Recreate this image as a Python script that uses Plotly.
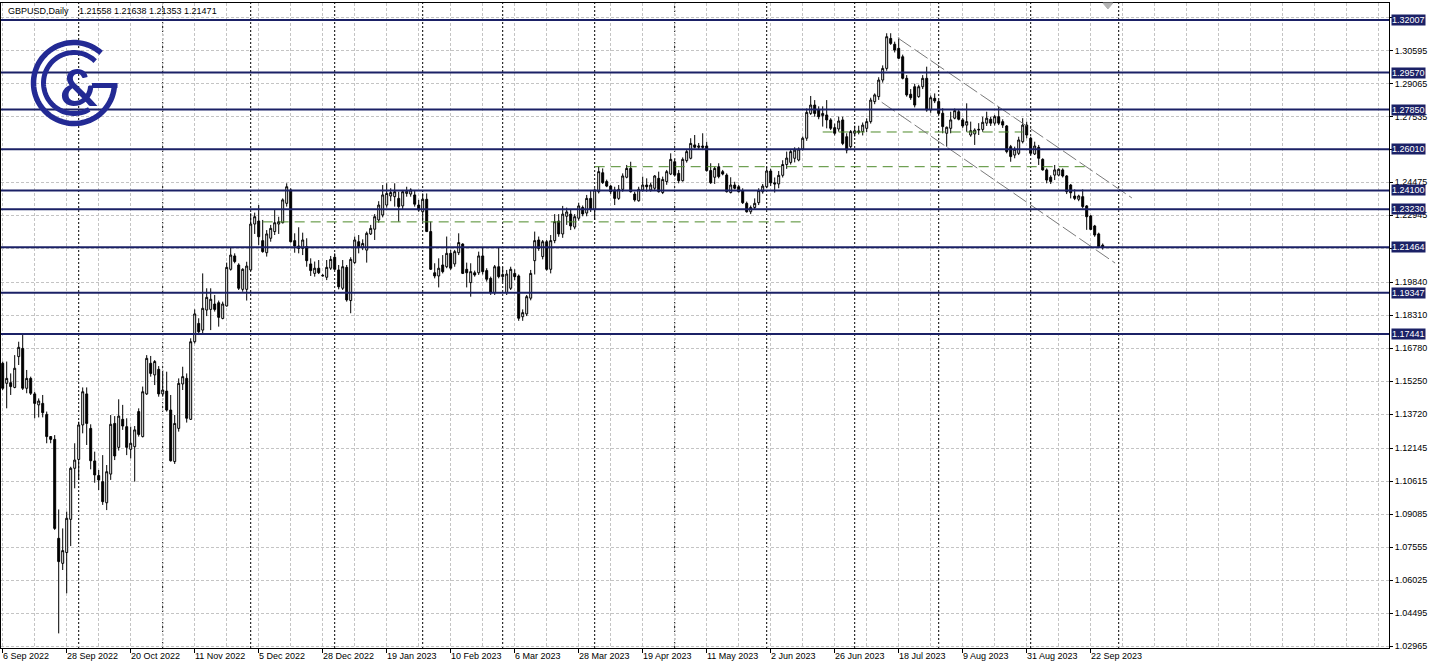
import math
import plotly.graph_objects as go

# ---------------- data ----------------
opens = [1.1608,1.1515,1.1518,1.1496,1.1639,1.1677,1.1492,1.1538,1.1466,1.1415,
1.1422,1.1371,1.1268,1.1255,1.0796,1.0680,1.0730,1.0884,1.1121,1.1162,
1.1322,1.1466,1.1306,1.1155,1.1087,1.1059,1.0961,1.1094,1.1329,1.1218,
1.1348,1.1314,1.1209,1.1221,1.1384,1.1268,1.1466,1.1608,1.1554,1.1580,
1.1466,1.1479,1.1391,1.1152,1.1306,1.1512,1.1538,1.1348,1.1708,1.1793,
1.1762,1.1855,1.1858,1.1883,1.1889,1.1816,1.1874,1.2044,1.2106,1.2064,
1.1951,1.1951,1.2041,1.2254,1.2268,1.2177,1.2121,1.2188,1.2219,1.2254,
1.2260,1.2350,1.2412,1.2177,1.2152,1.2141,1.2149,1.2069,1.2025,1.2049,
1.2016,1.2007,1.2049,1.2100,1.2041,1.1956,1.2053,1.1899,1.2075,1.2172,
1.2146,1.2133,1.2208,1.2230,1.2273,1.2296,1.2342,1.2384,1.2381,1.2373,
1.2338,1.2396,1.2393,1.2389,1.2342,1.2311,1.2369,1.2219,1.2028,1.2013,
1.2064,1.2056,1.2118,1.2069,1.2121,1.2161,1.2044,1.1982,1.2028,1.2028,
1.2106,1.2038,1.2002,1.1936,1.2056,1.2010,1.1936,1.1956,1.2025,1.2013,
1.1824,1.1837,1.1910,1.2084,1.2180,1.2103,1.2172,1.2044,1.2177,1.2268,
1.2208,1.2290,1.2300,1.2240,1.2281,1.2331,1.2305,1.2373,1.2322,1.2404,
1.2492,1.2451,1.2430,1.2412,1.2373,1.2415,1.2471,1.2512,1.2393,1.2362,
1.2412,1.2435,1.2412,1.2420,1.2466,1.2400,1.2451,1.2486,1.2543,1.2489,
1.2455,1.2548,1.2559,1.2621,1.2610,1.2616,1.2616,1.2502,1.2471,1.2520,
1.2497,1.2481,1.2400,1.2435,1.2427,1.2409,1.2350,1.2311,1.2331,1.2353,
1.2404,1.2427,1.2500,1.2445,1.2440,1.2480,1.2530,1.2540,1.2559,1.2551,
1.2602,1.2652,1.2767,1.2806,1.2783,1.2757,1.2760,1.2737,1.2701,1.2695,
1.2737,1.2659,1.2613,1.2675,1.2686,1.2683,1.2698,1.2729,1.2822,1.2845,
1.2922,1.2976,1.3115,1.3088,1.3069,1.3030,1.2930,1.2856,1.2891,1.2845,
1.2891,1.2930,1.2783,1.2837,1.2822,1.2768,1.2675,1.2698,1.2745,1.2775,
1.2737,1.2713,1.2667,1.2672,1.2690,1.2693,1.2722,1.2740,1.2722,1.2752,
1.2729,1.2709,1.2613,1.2574,1.2582,1.2636,1.2713,1.2652,1.2579,1.2610,
1.2554,1.2505,1.2471,1.2481,1.2481,1.2505,1.2477,1.2435,1.2384,1.2369,
1.2381,1.2338,1.2291,1.2245,1.2208,1.21558]

highs = [1.1616,1.1616,1.1561,1.1646,1.1708,1.1747,1.1577,1.1546,1.1476,1.1445,
1.1461,1.1384,1.1270,1.1275,1.0930,1.0842,1.0920,1.1128,1.1237,1.1337,
1.1496,1.1496,1.1325,1.1198,1.1113,1.1182,1.1136,1.1368,1.1363,1.1441,
1.1415,1.1353,1.1314,1.1317,1.1399,1.1500,1.1646,1.1642,1.1623,1.1595,
1.1569,1.1569,1.1461,1.1368,1.1538,1.1592,1.1561,1.1724,1.1858,1.1817,
1.2025,1.1956,1.1956,1.1925,1.1899,1.1894,1.2075,1.2146,1.2118,1.2072,
1.2049,1.2079,1.2304,1.2307,1.2342,1.2273,1.2226,1.2250,1.2319,1.2288,
1.2373,1.2443,1.2420,1.2211,1.2239,1.2214,1.2188,1.2095,1.2080,1.2087,
1.2022,1.2087,1.2106,1.2118,1.2064,1.2087,1.2064,1.2100,1.2196,1.2203,
1.2183,1.2219,1.2250,1.2300,1.2360,1.2435,1.2443,1.2420,1.2443,1.2404,
1.2412,1.2427,1.2420,1.2412,1.2366,1.2396,1.2396,1.2265,1.2072,1.2095,
1.2110,1.2196,1.2134,1.2134,1.2211,1.2165,1.2075,1.2072,1.2038,1.2126,
1.2146,1.2049,1.2010,1.2064,1.2146,1.2053,1.2041,1.2056,1.2044,1.2020,
1.1858,1.1925,1.2041,1.2219,1.2196,1.2180,1.2180,1.2203,1.2300,1.2300,
1.2338,1.2330,1.2320,1.2300,1.2353,1.2340,1.2389,1.2412,1.2420,1.2520,
1.2512,1.2460,1.2435,1.2427,1.2435,1.2489,1.2528,1.2543,1.2404,1.2427,
1.2474,1.2466,1.2446,1.2481,1.2497,1.2474,1.2505,1.2582,1.2559,1.2505,
1.2563,1.2601,1.2652,1.2667,1.2630,1.2675,1.2636,1.2536,1.2520,1.2536,
1.2505,1.2489,1.2471,1.2450,1.2435,1.2420,1.2358,1.2340,1.2373,1.2420,
1.2440,1.2520,1.2510,1.2470,1.2500,1.2550,1.2590,1.2600,1.2610,1.2610,
1.2660,1.2790,1.2848,1.2829,1.2800,1.2800,1.2829,1.2745,1.2720,1.2752,
1.2752,1.2675,1.2690,1.2710,1.2710,1.2725,1.2744,1.2840,1.2860,1.2935,
1.2990,1.3139,1.3139,1.3100,1.3119,1.3040,1.2945,1.2880,1.2905,1.2900,
1.2945,1.2984,1.2850,1.2860,1.2830,1.2791,1.2706,1.2775,1.2790,1.2785,
1.2745,1.2814,1.2729,1.2698,1.2722,1.2752,1.2775,1.2752,1.2760,1.2798,
1.2740,1.2713,1.2621,1.2613,1.2659,1.2745,1.2729,1.2659,1.2636,1.2621,
1.2559,1.2512,1.2480,1.2528,1.2512,1.2512,1.2481,1.2440,1.2415,1.2390,
1.2415,1.2342,1.2296,1.2250,1.2214,1.21638]

lows = [1.1484,1.1399,1.1461,1.1492,1.1600,1.1484,1.1469,1.1461,1.1353,1.1357,
1.1357,1.1237,1.1237,1.0835,1.0355,1.0649,1.0541,1.0760,1.1028,1.1067,
1.1283,1.1229,1.1116,1.1054,1.1020,1.0951,1.0927,1.1067,1.1159,1.1203,
1.1299,1.1182,1.1167,1.1059,1.1268,1.1264,1.1461,1.1546,1.1507,1.1453,
1.1453,1.1384,1.1152,1.1141,1.1291,1.1484,1.1333,1.1345,1.1700,1.1739,
1.1747,1.1827,1.1762,1.1848,1.1778,1.1812,1.1871,1.2038,1.2072,1.1948,
1.1940,1.1899,1.2038,1.2208,1.2157,1.2121,1.2103,1.2172,1.2203,1.2208,
1.2257,1.2335,1.2168,1.2121,1.2118,1.2110,1.2056,1.2013,1.2010,1.2022,
1.2010,1.1994,1.2041,1.2041,1.1951,1.1948,1.1894,1.1840,1.2069,1.2118,
1.2133,1.2075,1.2203,1.2180,1.2260,1.2285,1.2330,1.2360,1.2335,1.2265,
1.2322,1.2381,1.2381,1.2335,1.2311,1.2265,1.2219,1.2041,1.2002,1.1960,
1.2025,1.2049,1.2041,1.2056,1.2110,1.2022,1.1960,1.1917,1.2010,1.2018,
1.2020,1.1987,1.1925,1.1925,1.2002,1.1980,1.1925,1.1948,1.1994,1.1805,
1.1805,1.1827,1.1900,1.2020,1.2130,1.2090,1.2038,1.2025,1.2165,1.2195,
1.2190,1.2250,1.2226,1.2230,1.2270,1.2290,1.2290,1.2310,1.2273,1.2396,
1.2440,1.2425,1.2393,1.2342,1.2366,1.2404,1.2466,1.2400,1.2358,1.2358,
1.2404,1.2404,1.2404,1.2412,1.2400,1.2393,1.2436,1.2481,1.2474,1.2443,
1.2451,1.2539,1.2554,1.2605,1.2600,1.2597,1.2497,1.2440,1.2440,1.2466,
1.2480,1.2400,1.2396,1.2415,1.2400,1.2347,1.2307,1.2300,1.2322,1.2342,
1.2395,1.2420,1.2430,1.2400,1.2420,1.2470,1.2510,1.2530,1.2540,1.2545,
1.2595,1.2640,1.2760,1.2752,1.2740,1.2706,1.2698,1.2690,1.2665,1.2683,
1.2620,1.2582,1.2605,1.2660,1.2670,1.2665,1.2680,1.2720,1.2810,1.2830,
1.2910,1.2965,1.3085,1.3050,1.3020,1.2925,1.2845,1.2830,1.2795,1.2840,
1.2880,1.2775,1.2770,1.2815,1.2760,1.2675,1.2613,1.2675,1.2740,1.2735,
1.2700,1.2682,1.2659,1.2621,1.2667,1.2682,1.2709,1.2709,1.2711,1.2713,
1.2700,1.2582,1.2543,1.2559,1.2574,1.2628,1.2652,1.2574,1.2574,1.2528,
1.2502,1.2443,1.2440,1.2458,1.2475,1.2470,1.2393,1.2373,1.2365,1.2360,
1.2327,1.2227,1.2227,1.2195,1.2146,1.21353]

closes = [1.1492,1.1538,1.1500,1.1585,1.1682,1.1492,1.1538,1.1469,1.1422,1.1433,
1.1379,1.1268,1.1255,1.0842,1.0688,1.0739,1.0889,1.1121,1.1159,1.1322,
1.1476,1.1329,1.1156,1.1090,1.1067,1.0966,1.1105,1.1325,1.1178,1.1363,
1.1317,1.1218,1.1237,1.1299,1.1278,1.1476,1.1631,1.1561,1.1616,1.1466,
1.1484,1.1391,1.1156,1.1329,1.1515,1.1546,1.1353,1.1708,1.1837,1.1754,
1.1863,1.1914,1.1905,1.1858,1.1821,1.1883,1.2053,1.2110,1.2080,1.1956,
1.2044,1.2059,1.2254,1.2288,1.2195,1.2126,1.2208,1.2234,1.2260,1.2265,
1.2366,1.2427,1.2172,1.2152,1.2141,1.2180,1.2084,1.2038,1.2049,1.2028,
1.2014,1.2053,1.2090,1.2044,1.1963,1.2056,1.1902,1.2090,1.2180,1.2146,
1.2164,1.2211,1.2234,1.2288,1.2342,1.2389,1.2396,1.2400,1.2404,1.2335,
1.2404,1.2406,1.2412,1.2346,1.2319,1.2369,1.2219,1.2044,1.2013,1.2049,
1.2033,1.2118,1.2049,1.2126,1.2168,1.2025,1.2028,1.2033,1.2018,1.2106,
1.2033,1.1998,1.1936,1.2056,1.2010,1.2020,1.2022,1.2044,1.2010,1.1817,
1.1843,1.1917,1.2025,1.2177,1.2141,1.2172,1.2044,1.2177,1.2265,1.2208,
1.2300,1.2310,1.2245,1.2288,1.2338,1.2301,1.2373,1.2322,1.2412,1.2497,
1.2446,1.2430,1.2404,1.2373,1.2415,1.2477,1.2512,1.2404,1.2366,1.2415,
1.2435,1.2427,1.2435,1.2477,1.2404,1.2461,1.2497,1.2554,1.2481,1.2455,
1.2554,1.2590,1.2628,1.2610,1.2616,1.2610,1.2502,1.2446,1.2512,1.2474,
1.2486,1.2404,1.2435,1.2420,1.2404,1.2353,1.2311,1.2331,1.2350,1.2409,
1.2430,1.2500,1.2445,1.2440,1.2480,1.2530,1.2560,1.2590,1.2597,1.2602,
1.2652,1.2772,1.2806,1.2767,1.2752,1.2767,1.2737,1.2698,1.2675,1.2732,
1.2628,1.2597,1.2683,1.2686,1.2680,1.2713,1.2729,1.2829,1.2853,1.2922,
1.2976,1.3123,1.3092,1.3061,1.3023,1.2930,1.2853,1.2840,1.2806,1.2891,
1.2930,1.2783,1.2840,1.2825,1.2767,1.2706,1.2703,1.2737,1.2780,1.2740,
1.2709,1.2729,1.2687,1.2690,1.2693,1.2726,1.2745,1.2722,1.2752,1.2722,
1.2713,1.2590,1.2567,1.2601,1.2644,1.2713,1.2667,1.2582,1.2616,1.2559,
1.2505,1.2458,1.2451,1.2505,1.2508,1.2477,1.2404,1.2399,1.2373,1.2384,
1.2335,1.2288,1.2229,1.2203,1.2149,1.21471]

date_labels = ["6 Sep 2022", "28 Sep 2022", "20 Oct 2022", "11 Nov 2022", "5 Dec 2022",
               "28 Dec 2022", "19 Jan 2023", "10 Feb 2023", "6 Mar 2023", "28 Mar 2023",
               "19 Apr 2023", "11 May 2023", "2 Jun 2023", "26 Jun 2023", "18 Jul 2023",
               "9 Aug 2023", "31 Aug 2023", "22 Sep 2023"]
bars_per_label = 16
bars_per_grid = 8
month_start_bars = [19, 40, 62, 83, 105, 125, 148, 168, 191, 213, 234, 257, 279]

price_ticks = [1.32125, 1.30595, 1.29065, 1.27535, 1.26005, 1.24475, 1.22945, 1.21415,
               1.19840, 1.18310, 1.16780, 1.15250, 1.13720, 1.12145, 1.10615, 1.09085,
               1.07555, 1.06025, 1.04495, 1.02965]
hidden_ticks = [1.32125, 1.26005, 1.21415]

levels = [1.32007, 1.29570, 1.27850, 1.26010, 1.24100, 1.23230, 1.21464, 1.19347, 1.17441]

support_start = [65, 148, 205]
support_end = [201, 272, 255]
support_price = [1.2264, 1.2520, 1.2681]

channel_bar0 = [223.8, 219.75]
channel_price0 = [1.3117, 1.2819]
channel_bar1 = [282.3, 278.1]
channel_price1 = [1.2375, 1.2073]

symbol_text = "GBPUSD,Daily"
quote_text = "1.21558 1.21638 1.21353 1.21471"

# ---------------- figure ----------------
W, H = 1437, 669
ML, MR, MT, MB = 1, 48, 3, 21
PW, PH = W - ML - MR, H - MT - MB

NAVY = "#1b2166"
LOGO = "#232a94"
GRID = "#c4c4c4"
FONT = "Liberation Sans, Arial, sans-serif"

n = len(closes)
xs = list(range(n))

fig = go.Figure()
fig.add_trace(go.Candlestick(
    x=xs, open=opens, high=highs, low=lows, close=closes,
    increasing=dict(line=dict(color="black", width=1), fillcolor="white"),
    decreasing=dict(line=dict(color="black", width=1), fillcolor="black"),
    whiskerwidth=0, hoverinfo="skip", showlegend=False,
))

shapes = []
# month separators
for b in month_start_bars:
    shapes.append(dict(type="line", xref="x", yref="paper", x0=b, x1=b, y0=0, y1=1,
                       line=dict(color="black", width=1, dash="2px,2px"), layer="below"))
# support / resistance (green dashed)
for s, e, p in zip(support_start, support_end, support_price):
    shapes.append(dict(type="line", xref="x", yref="y", x0=s, x1=e, y0=p, y1=p,
                       line=dict(color="#4e8a2a", width=1, dash="10px,6px"), layer="above"))
# channel lines
for b0, p0, b1, p1 in zip(channel_bar0, channel_price0, channel_bar1, channel_price1):
    shapes.append(dict(type="line", xref="x", yref="y", x0=b0, x1=b1, y0=p0, y1=p1,
                       line=dict(color="#7a7a7a", width=1, dash="16px,4px"), layer="above"))
# navy levels
for lv in levels:
    shapes.append(dict(type="line", xref="paper", yref="y", x0=0, x1=1, y0=lv, y1=lv,
                       line=dict(color=NAVY, width=2), layer="above"))

# logo (pixel coordinates relative to the plot's top-left corner)
def to_rel(X, Y):
    return X - ML, -(Y - MT)

def arc_path(cx, cy, r, a0, a1, steps=72):
    pts = []
    for i in range(steps + 1):
        a = math.radians(a0 + (a1 - a0) * i / steps)
        pts.append(to_rel(cx + r * math.cos(a), cy - r * math.sin(a)))
    return "M " + " L ".join(f"{px:.2f},{py:.2f}" for px, py in pts)

logo_cx, logo_cy = 74, 83
outer = arc_path(logo_cx, logo_cy, 40.5, 48, 357)
inner = arc_path(logo_cx, logo_cy, 30.5, 46, 300)
for pth, wdt in [(outer, 5.5), (inner, 5)]:
    shapes.append(dict(type="path", xref="paper", yref="paper", xsizemode="pixel",
                       ysizemode="pixel", xanchor=0, yanchor=1, path=pth,
                       line=dict(color=LOGO, width=wdt), layer="above"))
bar_pts = [to_rel(92, 83), to_rel(117.5, 83), to_rel(117.5, 88), to_rel(92, 88)]
bar_path = "M " + " L ".join(f"{a:.2f},{b:.2f}" for a, b in bar_pts) + " Z"
shapes.append(dict(type="path", xref="paper", yref="paper", xsizemode="pixel",
                   ysizemode="pixel", xanchor=0, yanchor=1, path=bar_path,
                   fillcolor=LOGO, line=dict(color=LOGO, width=0), layer="above"))

# chart shift marker
shapes.append(dict(type="path", xref="x", yref="paper", xsizemode="pixel", ysizemode="pixel",
                   xanchor=276.3, yanchor=1, path="M -5,0 L 5,0 L 0,-6 Z",
                   fillcolor="#b4b4b4", line=dict(color="#b4b4b4", width=1), layer="above"))

annotations = []
def px2paper(X, Y):
    return (X - ML) / PW, 1 - (Y - MT) / PH

for i, lab in enumerate(date_labels):
    annotations.append(dict(text=lab, xref="x", yref="paper", x=i * bars_per_label, y=0,
                            xanchor="left", yanchor="top", yshift=-1, xshift=-2, showarrow=False,
                            font=dict(family=FONT, size=9, color="black")))
for lv in levels:
    annotations.append(dict(text=f"{lv:.5f}", xref="paper", yref="y", x=1, y=lv,
                            xanchor="left", yanchor="middle", xshift=2, showarrow=False,
                            bgcolor=NAVY, borderpad=0,
                            font=dict(family=FONT, size=9, color="white")))
hx, hy = px2paper(6, 11)
annotations.append(dict(text=symbol_text, xref="paper", yref="paper", x=hx, y=hy,
                        xanchor="left", yanchor="middle", showarrow=False,
                        font=dict(family=FONT, size=9, color="black")))
qx, qy = px2paper(77, 11)
annotations.append(dict(text=quote_text, xref="paper", yref="paper", x=qx, y=qy,
                        xanchor="left", yanchor="middle", showarrow=False,
                        font=dict(family=FONT, size=9, color="black")))
ax_, ay_ = px2paper(79, 86)
annotations.append(dict(text="<b>&</b>", xref="paper", yref="paper", x=ax_, y=ay_,
                        xanchor="center", yanchor="middle", showarrow=False,
                        font=dict(family="Lato, DejaVu Sans, sans-serif", size=52, color=LOGO)))

# axes ranges from pixel geometry of the reference
bar0_px, bar_px = 2.7, 4.0
x_lo = (ML - bar0_px) / bar_px
x_hi = (ML + PW - bar0_px) / bar_px
y_lo, y_hi = 1.02872, 1.32794

tick_text = ["" if t in hidden_ticks else f"{t:.5f}" for t in price_ticks]

fig.update_layout(
    width=W, height=H,
    margin=dict(l=ML, r=MR, t=MT, b=MB, pad=0),
    plot_bgcolor="white", paper_bgcolor="white",
    showlegend=False,
    font=dict(family=FONT, size=9, color="black"),
    shapes=shapes, annotations=annotations,
    xaxis=dict(range=[x_lo, x_hi], rangeslider=dict(visible=False),
               tickvals=[i * bars_per_label for i in range(len(date_labels))],
               showticklabels=False, ticks="outside", ticklen=4, tickcolor="black",
               showgrid=False, zeroline=False,
               minor=dict(tickvals=list(range(0, int(x_hi) + 1, bars_per_grid)),
                          showgrid=True, gridcolor=GRID, griddash="3px,2px", gridwidth=1,
                          ticks=""),
               showline=True, linecolor="black", linewidth=1, mirror=True,
               fixedrange=True),
    yaxis=dict(range=[y_lo, y_hi], side="right", tickvals=price_ticks, ticktext=tick_text,
               ticks="outside", ticklen=3, tickcolor="black",
               showgrid=True, gridcolor=GRID, griddash="3px,2px", gridwidth=1,
               zeroline=False, showline=True, linecolor="black", linewidth=1, mirror=True,
               tickfont=dict(family=FONT, size=9, color="black"), automargin=False,
               fixedrange=True),
)

fig.write_html("out.html", config={"displayModeBar": False},
               post_script="document.body.style.margin='0px';")
